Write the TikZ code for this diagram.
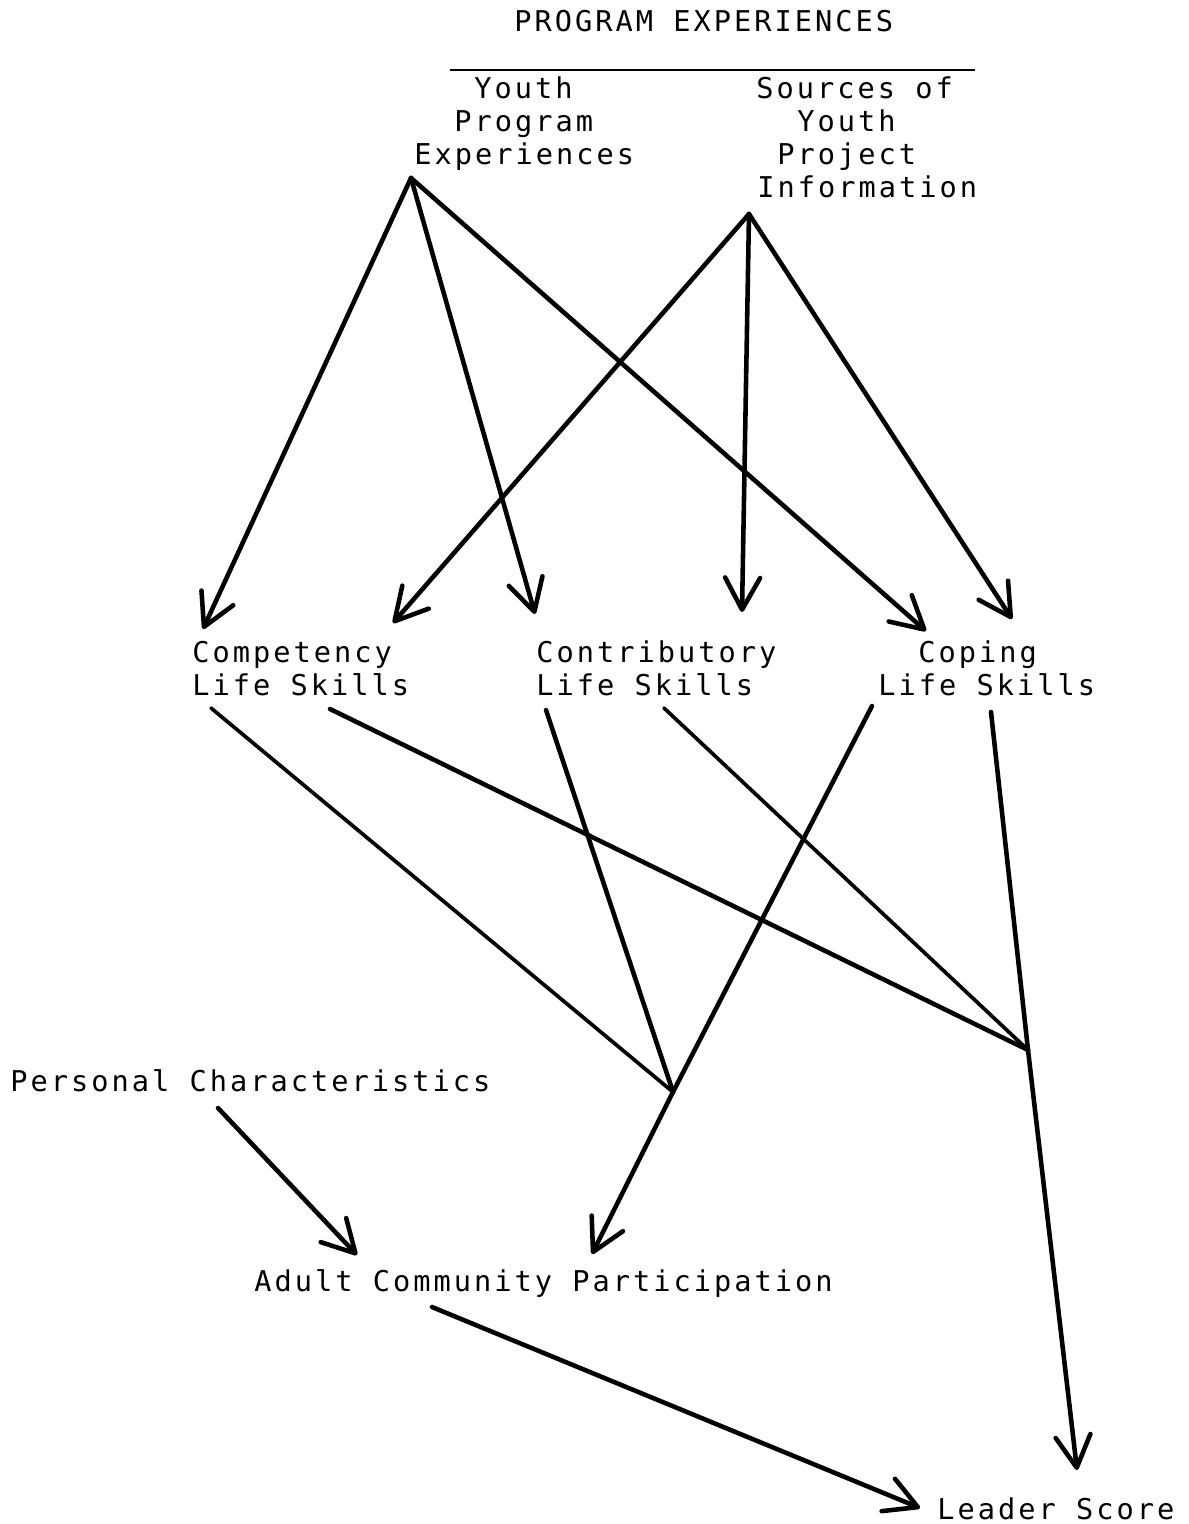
\documentclass[tikz,border=0pt]{standalone}
\usepackage{fontspec}
\usetikzlibrary{arrows.meta}
\newfontfamily\typewriter{DejaVu Sans Mono}[LetterSpace=10.5]
\begin{document}
\begin{tikzpicture}[x=0.02cm,y=-0.02cm,
  lbl/.style={inner sep=0pt, anchor=base west,
    font=\typewriter\fontsize{16.3}{19}\selectfont},
  link/.style={line width=2.6pt, line cap=round, line join=round},
  thinlink/.style={link, line width=2.1pt},
  arrowlink/.style={link, -{Straight Barb[length=0.64cm,width=0.7cm,round]}},
]
\fill[white] (0,0) rectangle (1188,1524);
\useasboundingbox (0,0) rectangle (1188,1524);

% ---- heading ----
\node[lbl] (title) at (514,32) {PROGRAM EXPERIENCES};
\draw[line width=1.2pt] (450,70) -- (975,70);

% ---- program experience groups ----
\node[lbl] (ype1) at (474,99)  {Youth};
\node[lbl] (ype2) at (454,132) {Program};
\node[lbl] (ype3) at (414,165) {Experiences};

\node[lbl] (syp1) at (756,99)  {Sources of};
\node[lbl] (syp2) at (797,132) {Youth};
\node[lbl] (syp3) at (777,165) {Project};
\node[lbl] (syp4) at (757,198) {Information};

% ---- life skills ----
\node[lbl] (comp1) at (192,662) {Competency};
\node[lbl] (comp2) at (192,695) {Life Skills};
\node[lbl] (cont1) at (536,662) {Contributory};
\node[lbl] (cont2) at (536,695) {Life Skills};
\node[lbl] (cope1) at (918,662) {Coping};
\node[lbl] (cope2) at (878,695) {Life Skills};

% ---- outcomes ----
\node[lbl] (pers)   at (10,1091)  {Personal Characteristics};
\node[lbl] (acp)    at (254,1291) {Adult Community Participation};
\node[lbl] (leader) at (937,1519) {Leader Score};

% ---- connection points ----
\coordinate (ypeOut)  at (411,178);
\coordinate (sypOut)  at (749,214);
\coordinate (compInA) at (203,629);
\coordinate (compInB) at (393,623);
\coordinate (contInA) at (535,614);
\coordinate (contInB) at (742,612);
\coordinate (copeInA) at (926,631);
\coordinate (copeInB) at (1012,619);
\coordinate (compOutA) at (211,708);
\coordinate (compOutB) at (330,709);
\coordinate (contOutA) at (546,710);
\coordinate (contOutB) at (664,708);
\coordinate (copeOutA) at (872,706);
\coordinate (copeOutB) at (991,712);
\coordinate (joinA) at (673,1092);
\coordinate (joinB) at (1028,1050);
\coordinate (persOut) at (218,1108);
\coordinate (acpIn)   at (357,1255);
\coordinate (acpInB)  at (592,1254);
\coordinate (acpOut)  at (432,1307);
\coordinate (leadInA) at (920,1508);
\coordinate (leadInB) at (1077,1470);

% ---- program experiences to life skills ----
\draw[arrowlink] (ypeOut) -- (compInA);
\draw[arrowlink] (ypeOut) -- (contInA);
\draw[arrowlink] (ypeOut) -- (copeInA);
\draw[arrowlink] (sypOut) -- (compInB);
\draw[arrowlink] (sypOut) -- (contInB);
\draw[arrowlink] (sypOut) -- (copeInB);

% ---- life skills to outcomes ----
\draw[thinlink] (compOutA) -- (joinA);
\draw[link] (contOutA) -- (joinA);
\draw[link] (copeOutA) -- (joinA);
\draw[arrowlink] (joinA) -- (acpInB);

\draw[link] (compOutB) -- (joinB);
\draw[thinlink] (contOutB) -- (joinB);
\draw[link] (copeOutB) -- (joinB);
\draw[arrowlink] (joinB) -- (leadInB);

\draw[arrowlink] (persOut) -- (acpIn);
\draw[arrowlink] (acpOut) -- (leadInA);
\end{tikzpicture}
\end{document}
